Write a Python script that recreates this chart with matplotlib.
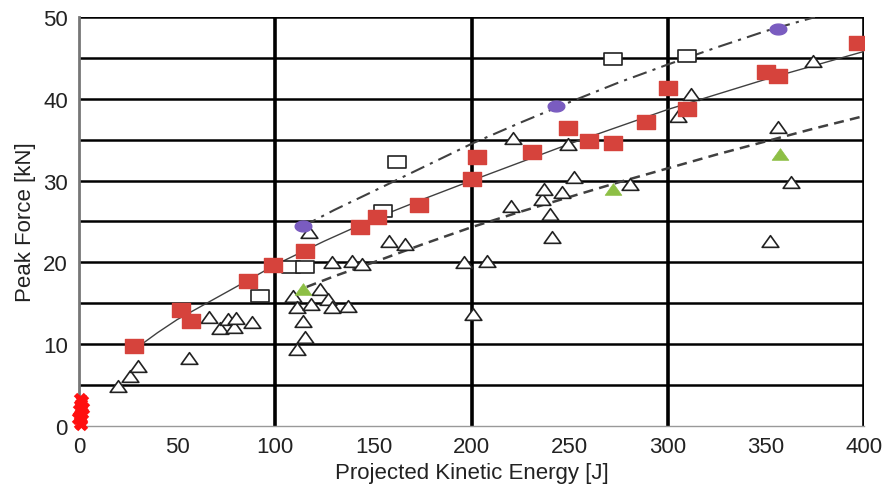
import matplotlib
matplotlib.use("Agg")
import matplotlib.pyplot as plt
import numpy as np
from matplotlib.path import Path

plt.rcParams["font.family"] = ["Liberation Sans", "DejaVu Sans"]

# red filled squares
red_x = [28, 52, 57, 86, 99, 115, 143, 152, 173, 200, 203, 231, 249, 260, 272, 289, 300, 310, 350, 356, 397]
red_y = [9.8, 14.2, 12.8, 17.7, 19.7, 21.4, 24.3, 25.5, 27.0, 30.2, 32.9, 33.5, 36.4, 34.9, 34.6, 37.2, 41.3, 38.8, 43.3, 42.8, 46.8]

# open squares
osq_x = [92, 108, 115, 155, 162, 272, 310]
osq_y = [15.9, 19.4, 19.4, 26.3, 32.3, 44.9, 45.2]

# open triangles
tri_x = [20, 26, 30, 56, 66, 72, 76, 79, 80, 88,
         109, 111, 111, 114, 115, 117, 118, 123, 127, 129, 129, 137, 139, 144,
         158, 166, 196, 201, 208, 220, 221, 236, 237, 240, 241, 246, 249, 252,
         281, 305, 312, 352, 356, 363, 374]
tri_y = [4.9, 6.1, 7.3, 8.3, 13.3, 12.0, 13.1, 12.1, 13.2, 12.7,
         15.9, 14.5, 9.4, 12.8, 10.9, 23.7, 14.9, 16.7, 15.5, 14.5, 20.0, 14.7, 20.2, 19.8,
         22.6, 22.2, 20.0, 13.7, 20.2, 26.9, 35.2, 27.7, 29.0, 25.9, 23.1, 28.6, 34.5, 30.4,
         29.6, 37.9, 40.6, 22.6, 36.5, 29.8, 44.6]

# green filled triangles
grn_x = [114, 272, 357]
grn_y = [16.7, 29.0, 33.3]

# purple ellipses
pur_x = [114, 243, 356]
pur_y = [24.4, 39.1, 48.5]

# red cluster at the origin
org_x = [0.3, 1.0, 0.6, 1.4, 0.2, 1.2, 0.8, 1.6, 0.4, 1.0, -0.5, 2.0]
org_y = [0.4, 0.8, 1.3, 1.6, 2.0, 2.3, 2.7, 3.0, 3.3, 0.2, 1.0, 2.2]

# fitted curves
fit_x = [28, 40, 50, 65, 80, 100, 125, 150, 175, 200, 250, 300, 350, 400]
fit_y = [9.3, 11.4, 13.0, 15.0, 17.0, 19.7, 22.6, 25.3, 27.7, 30.0, 34.5, 38.7, 42.4, 45.8]
upper_x = [114, 130, 150, 175, 200, 225, 250, 275, 300, 325, 350, 375]
upper_y = [24.4, 26.4, 28.7, 31.6, 34.5, 37.1, 39.6, 42.0, 44.2, 46.3, 48.3, 50.0]
lower_x = [116, 130, 150, 175, 200, 225, 250, 275, 300, 325, 350, 375, 400]
lower_y = [17.0, 18.3, 20.0, 22.2, 24.3, 26.2, 28.0, 29.8, 31.5, 33.2, 34.8, 36.4, 37.9]


def box_marker(w, h):
    return Path([(-w, -h), (w, -h), (w, h), (-w, h), (-w, -h)],
                [Path.MOVETO, Path.LINETO, Path.LINETO, Path.LINETO, Path.CLOSEPOLY])


def tri_marker(h):
    return Path([(0, h), (-1, -h), (1, -h), (0, h)],
                [Path.MOVETO, Path.LINETO, Path.LINETO, Path.CLOSEPOLY])


t = np.linspace(0, 2 * np.pi, 40)
ellipse = Path(np.column_stack([np.cos(t), 0.65 * np.sin(t)]))

fig = plt.figure(figsize=(8.88, 4.89), dpi=100)
ax = fig.add_axes([0.089, 0.127, 0.884, 0.836])

ax.set_xlim(0, 400)
ax.set_ylim(0, 50)

for y in range(5, 51, 5):
    ax.axhline(y, color="black", lw=1.8, zorder=1)
for x in (100, 200, 300, 400):
    ax.axvline(x, color="black", lw=2.6, zorder=1)

ax.plot(fit_x, fit_y, color="#404040", lw=1.0, zorder=2)
ax.plot(upper_x, upper_y, color="#404040", lw=1.5, dashes=(7, 3, 1.5, 3), zorder=2)
ax.plot(lower_x, lower_y, color="#404040", lw=1.8, dashes=(4, 2.5), zorder=2)

ax.plot(tri_x, tri_y, ls="none", marker=tri_marker(0.7), ms=12, mfc="white",
        mec="#222222", mew=1.2, zorder=3)
ax.plot(osq_x, osq_y, ls="none", marker=box_marker(1, 0.7), ms=13, mfc="white",
        mec="#222222", mew=1.2, zorder=4)
ax.plot(grn_x, grn_y, ls="none", marker=tri_marker(0.7), ms=12, mfc="#8dbf45",
        mec="#8dbf45", mew=0.5, zorder=4)
ax.plot(red_x, red_y, ls="none", marker=box_marker(1, 0.75), ms=13, mfc="#d6433c",
        mec="#d6433c", zorder=5)
ax.plot(pur_x, pur_y, ls="none", marker=ellipse, ms=12, mfc="#7a5cc0",
        mec="#7a5cc0", zorder=5)
ax.plot(org_x, org_y, ls="none", marker="x", ms=7, mew=3.5, color="#ff1010",
        zorder=6, clip_on=False)

for side in ("top", "right"):
    ax.spines[side].set_visible(False)
ax.spines["left"].set_color("#777777")
ax.spines["left"].set_linewidth(2.0)
ax.spines["bottom"].set_color("#999999")
ax.spines["bottom"].set_linewidth(1.0)

ax.set_xticks(range(0, 401, 50))
ax.set_yticks(range(0, 51, 10))
ax.tick_params(length=0, labelsize=16, colors="#222222")
ax.tick_params(axis="x", pad=7)
ax.tick_params(axis="y", pad=8)

ax.set_xlabel("Projected Kinetic Energy [J]", fontsize=16, color="#222222", labelpad=4)
ax.set_ylabel("Peak Force [kN]", fontsize=16, color="#222222", labelpad=5)

fig.savefig("out.png", dpi=100)
